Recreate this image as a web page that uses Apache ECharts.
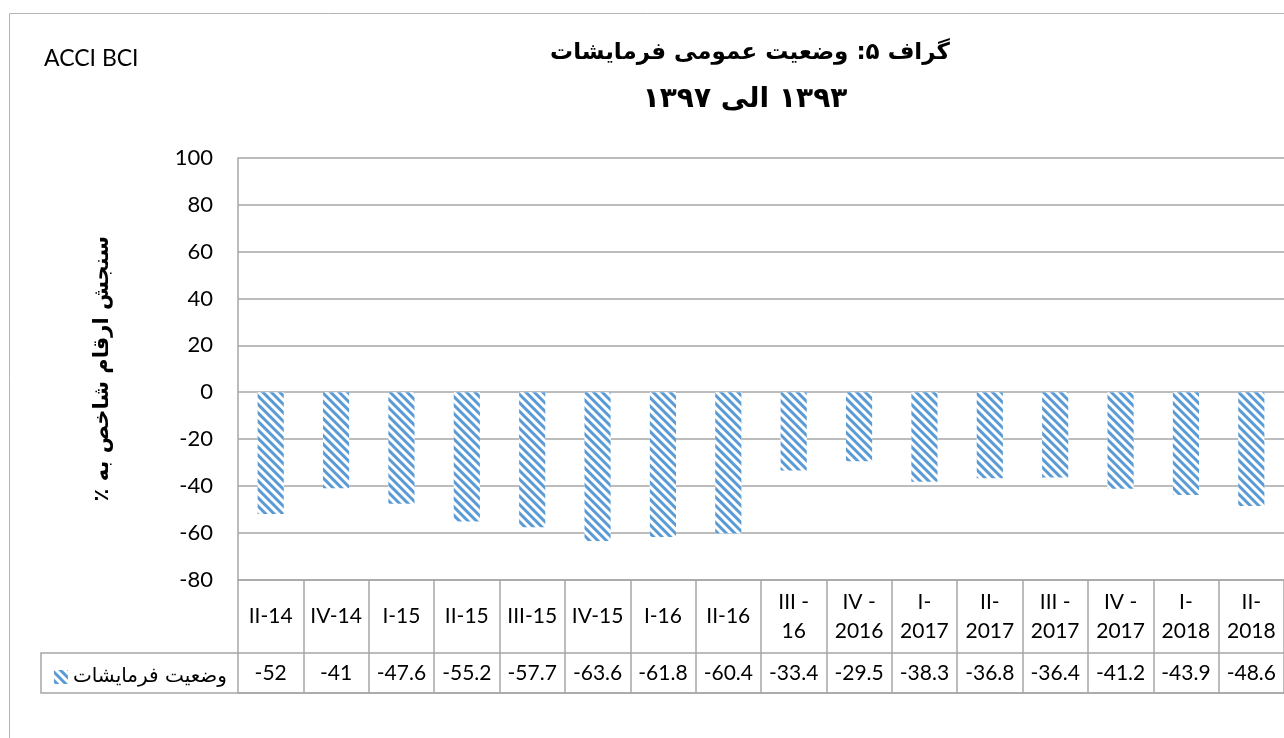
<!DOCTYPE html>
<html>
<head>
<meta charset="utf-8">
<script src="https://cdn.jsdelivr.net/npm/echarts@6/dist/echarts.min.js"></script>
<style>
html,body{margin:0;padding:0;background:#fff;}
#c{width:1284px;height:738px;}
</style>
</head>
<body>
<div id="c"></div>
<script>
const categories = ['II-14','IV-14','I-15','II-15','III-15','IV-15','I-16','II-16','III -\n16','IV -\n2016','I-\n2017','II-\n2017','III -\n2017','IV -\n2017','I-\n2018','II-\n2018'];
const values = [-52,-41,-47.6,-55.2,-57.7,-63.6,-61.8,-60.4,-33.4,-29.5,-38.3,-36.8,-36.4,-41.2,-43.9,-48.6];
const seriesName = 'وضعیت فرمایشات';
const titleLine1 = 'گراف ۵: وضعیت عمومی فرمایشات';
const titleLine2 = '۱۳۹۳ الی ۱۳۹۷';
const yAxisName = 'سنجش ارقام شاخص به ٪';
const sourceLabel = 'ACCI BCI';
const yMin = -80, yMax = 100, yStep = 20;

const RLM = '\u200F';
const lineColor = '#a6a6a6';
const latinFont = 'Lato';
const persianFont = 'DejaVu Sans';

const chart = echarts.init(document.getElementById('c'), null, {renderer:'canvas'});
chart.setOption({
  backgroundColor: '#fff',
  animation: false,
  title: {
    text: sourceLabel,
    left: 39, top: 42,
    textStyle: {fontFamily: latinFont, fontSize: 23, fontWeight: 'normal', color: '#000'}
  },
  legend: {
    data: [seriesName],
    right: 1284 - 232,
    top: 662,
    align: 'left',
    itemWidth: 14, itemHeight: 14, itemGap: 6,
    icon: 'rect',
    textStyle: {fontFamily: persianFont, fontSize: 20, color: '#000'}
  },
  grid: [
    {left: 238, top: 158, width: 1056, height: 421.5},
    {left: 238, top: 579.5, width: 1056, height: 113.5}
  ],
  xAxis: [
    {
      type: 'category', gridIndex: 0, data: categories,
      axisLine: {onZero: false, lineStyle: {color: lineColor, width: 1.5}},
      axisTick: {show: false},
      axisLabel: {
        interval: 0, margin: 37, verticalAlign: 'middle', lineHeight: 29,
        fontFamily: latinFont, fontSize: 21, color: '#000'
      },
      splitLine: {show: false}
    },
    {
      type: 'category', gridIndex: 1, data: categories, position: 'bottom',
      axisLine: {lineStyle: {color: lineColor, width: 1.5}},
      axisTick: {show: false},
      axisLabel: {
        interval: 0, inside: true, margin: 20, verticalAlign: 'middle',
        fontFamily: latinFont, fontSize: 21, color: '#000',
        formatter: function (v, i) { return String(values[i]); }
      },
      splitLine: {show: true, interval: 0, lineStyle: {color: lineColor, width: 1.5}}
    }
  ],
  yAxis: [
    {
      type: 'value', gridIndex: 0, min: yMin, max: yMax, interval: yStep,
      axisLine: {show: true, lineStyle: {color: lineColor, width: 1.5}},
      axisTick: {show: false},
      axisLabel: {margin: 25, fontFamily: latinFont, fontSize: 22, color: '#000'},
      splitLine: {show: true, lineStyle: {color: lineColor, width: 1.5}},
      name: yAxisName + RLM,
      nameLocation: 'middle',
      nameGap: 125,
      nameTextStyle: {fontFamily: persianFont, fontSize: 21, fontWeight: 'bold', color: '#000'}
    },
    {type: 'value', gridIndex: 1, min: 0, max: 1, show: false}
  ],
  series: [{
    name: seriesName,
    type: 'bar',
    xAxisIndex: 0, yAxisIndex: 0,
    data: values,
    barWidth: '40%',
    itemStyle: {
      color: '#ffffff',
      decal: {
        symbol: 'rect', symbolSize: 1,
        dashArrayX: [1, 0], dashArrayY: [2.2, 2.4],
        rotation: Math.PI / 4,
        color: '#5b9bd5'
      }
    }
  }],
  graphic: [
    {type: 'rect', z: -1, silent: true,
     shape: {x: 9.5, y: 13.5, width: 1400, height: 900},
     style: {fill: 'none', stroke: '#b4b4b4', lineWidth: 1}},
    {type: 'rect', silent: true,
     shape: {x: 41, y: 653, width: 1300, height: 40},
     style: {fill: 'none', stroke: lineColor, lineWidth: 1.5}},
    {type: 'text', silent: true, x: 750, y: 53,
     style: {text: titleLine1, textAlign: 'center', textVerticalAlign: 'middle',
             font: 'bold 23px "' + persianFont + '"', fill: '#000'}},
    {type: 'text', silent: true, x: 745, y: 100,
     style: {text: RLM + titleLine2 + RLM, textAlign: 'center', textVerticalAlign: 'middle',
             font: 'bold 28px "' + persianFont + '"', fill: '#000'}}
  ]
});
</script>
</body>
</html>
